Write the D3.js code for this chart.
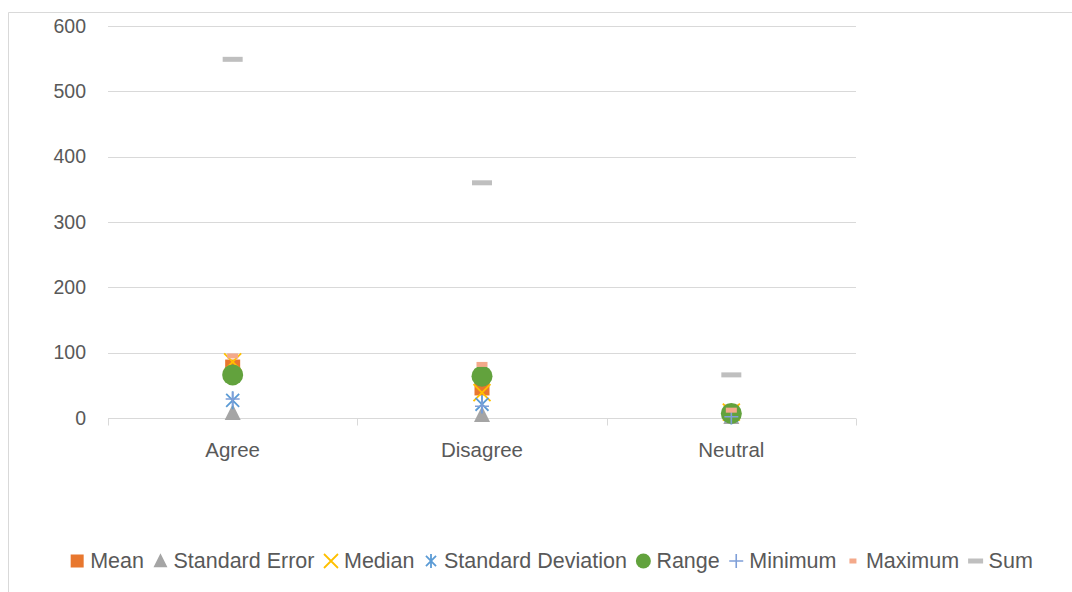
<!DOCTYPE html>
<html>
<head>
<meta charset="utf-8">
<script src="https://cdn.jsdelivr.net/npm/d3@7/dist/d3.min.js"></script>
<style>
  html, body { margin: 0; padding: 0; background: #fff; }
  svg { display: block; font-family: "Liberation Sans", Arial, sans-serif; }
</style>
</head>
<body>
<svg id="chart" width="1072" height="592"></svg>
<script>
// Descriptive statistics per response group
const categories = ["Agree", "Disagree", "Neutral"];
const seriesNames = ["Mean", "Standard Error", "Median", "Standard Deviation", "Range", "Minimum", "Maximum", "Sum"];
const mean      = [78, 46, 9];
const stdError  = [8, 5, 2];
const median    = [86, 39, 9];
const stdDev    = [27, 21, 4];
const range     = [66, 64, 7];
const minimum   = [29, 18, 2];
const maximum   = [95, 82, 12];
const sum       = [549, 360, 66];
const yTicks    = [0, 100, 200, 300, 400, 500, 600];

const seriesValues = [mean, stdError, median, stdDev, range, minimum, maximum, sum];
const colors = ["#E8772E", "#A5A5A5", "#FFC000", "#5B9BD5", "#62A23D", "#7F9FD8", "#F4A98A", "#BFBFBF"];
const shapes = ["square", "triangle", "x", "asterisk", "circle", "plus", "dashSmall", "dash"];

const svg = d3.select("#chart");
const W = 1072, H = 592;

// Chart frame
svg.append("path")
  .attr("d", `M8.5,${H} V12.5 H${W}`)
  .attr("fill", "none").attr("stroke", "#d9d9d9").attr("stroke-width", 1);

const x = d3.scaleBand().domain(categories).range([108, 856]);
const y = d3.scaleLinear().domain([0, 600]).range([418, 26]);

// Gridlines
svg.append("g").selectAll("line").data(yTicks.filter(t => t !== 0)).join("line")
  .attr("x1", 108).attr("x2", 856)
  .attr("y1", d => Math.round(y(d)) + 0.5).attr("y2", d => Math.round(y(d)) + 0.5)
  .attr("stroke", "#d9d9d9").attr("stroke-width", 1);

// Y axis labels
const yAxis = d3.axisLeft(y).tickValues(yTicks).tickSize(0).tickPadding(22);
const gy = svg.append("g").attr("transform", "translate(108,0)").call(yAxis);
gy.select(".domain").remove();
gy.selectAll("text").attr("fill", "#595959").style("font-size", "19.5px")
  .style("font-family", "Liberation Sans, Arial, sans-serif");

// X axis with category ticks on the boundaries
const gx = svg.append("g").attr("transform", `translate(0,${Math.round(y(0)) + 0.5})`);
gx.append("line").attr("x1", 108).attr("x2", 856).attr("stroke", "#d9d9d9");
const bounds = [108].concat(categories.map(c => x(c) + x.bandwidth()));
gx.selectAll("line.tk").data(bounds).join("line").attr("class", "tk")
  .attr("x1", d => Math.round(d) + 0.5).attr("x2", d => Math.round(d) + 0.5)
  .attr("y1", 0).attr("y2", 7).attr("stroke", "#d9d9d9");
gx.selectAll("text").data(categories).join("text")
  .attr("x", d => x(d) + x.bandwidth() / 2).attr("y", 31)
  .attr("text-anchor", "middle").attr("dominant-baseline", "central")
  .attr("fill", "#595959").style("font-size", "20.5px").text(d => d);

// Marker drawing
function drawMarker(g, shape, color, s) {
  switch (shape) {
    case "square":
      g.append("rect").attr("x", -s / 2).attr("y", -s / 2).attr("width", s).attr("height", s).attr("fill", color);
      break;
    case "triangle":
      g.append("path").attr("d", `M0,${-s * 0.55} L${s / 2},${s * 0.45} L${-s / 2},${s * 0.45} Z`).attr("fill", color);
      break;
    case "x":
      g.append("path").attr("d", `M${-s / 2},${-s / 2} L${s / 2},${s / 2} M${s / 2},${-s / 2} L${-s / 2},${s / 2}`)
        .attr("stroke", color).attr("stroke-width", 1.8).attr("fill", "none");
      break;
    case "asterisk": {
      const r = s / 2, d = r * 0.72;
      g.append("path").attr("d", `M0,${-r} V${r} M${-d},${-d} L${d},${d} M${d},${-d} L${-d},${d}`)
        .attr("stroke", color).attr("stroke-width", 1.8).attr("fill", "none");
      break;
    }
    case "circle":
      g.append("circle").attr("r", s / 2).attr("fill", color);
      break;
    case "plus":
      g.append("path").attr("d", `M${-s / 2},0 H${s / 2} M0,${-s / 2} V${s / 2}`)
        .attr("stroke", color).attr("stroke-width", 1.6).attr("fill", "none");
      break;
    case "dashSmall":
    case "dash":
      g.append("rect").attr("x", -s / 2).attr("y", -2.5).attr("width", s).attr("height", 5).attr("fill", color);
      break;
  }
}

const plotSizes = [15, 16, 17, 18, 21, 14, 11, 20];
const legendSizes = [13, 14, 14, 14, 15, 14, 7, 15];

// Plot points, series drawn in order
seriesValues.forEach((vals, si) => {
  const g = svg.append("g").attr("class", "series");
  vals.forEach((v, ci) => {
    const m = g.append("g")
      .attr("transform", `translate(${x(categories[ci]) + x.bandwidth() / 2},${y(v)})`);
    drawMarker(m, shapes[si], colors[si], plotSizes[si]);
  });
});

// Legend
const legend = svg.append("g").attr("transform", "translate(0,561)");
let cx = 0;
const items = [];
seriesNames.forEach((name, i) => {
  const it = legend.append("g");
  const mk = it.append("g");
  drawMarker(mk, shapes[i], colors[i], legendSizes[i]);
  const t = it.append("text").attr("dominant-baseline", "central")
    .attr("fill", "#595959").style("font-size", "21.5px").text(name);
  items.push({ it, mk, t, w: t.node().getComputedTextLength() });
});
const markerW = 14, gapMT = 6, gapItem = 9.5;
items.forEach(d => {
  d.mk.attr("transform", `translate(${cx + markerW / 2},0)`);
  d.t.attr("x", cx + markerW + gapMT);
  cx += markerW + gapMT + d.w + gapItem;
});
const total = cx - gapItem;
legend.attr("transform", `translate(${(70 + 1033) / 2 - total / 2},561)`);
</script>
</body>
</html>
